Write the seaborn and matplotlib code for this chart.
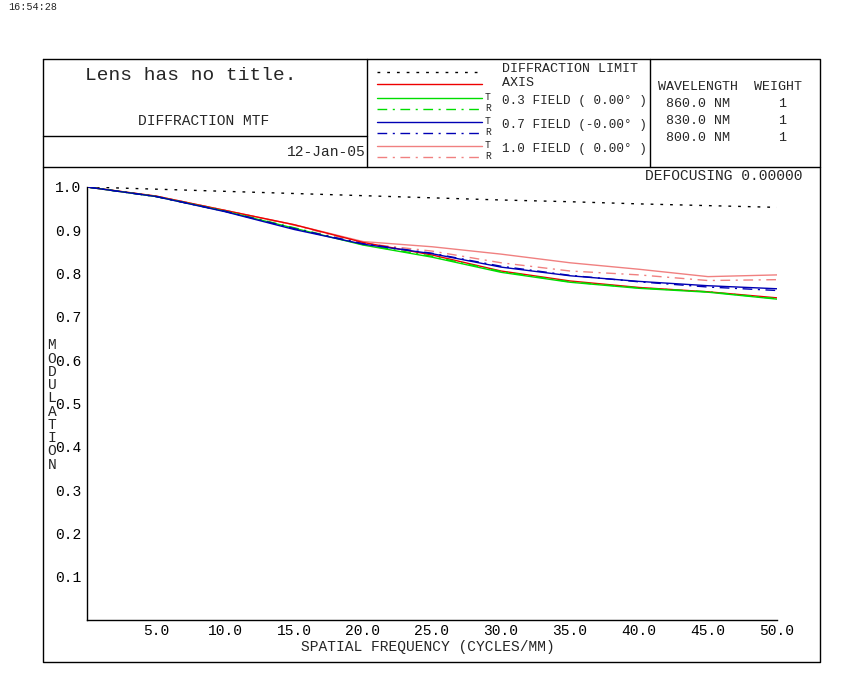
import numpy as np
import pandas as pd
import matplotlib
matplotlib.use("Agg")
import matplotlib.pyplot as plt
import seaborn as sns

# spatial frequency (cycles/mm) and MTF readings
freq = [0, 5, 10, 15, 20, 25, 30, 35, 40, 45, 50]
diff_limit = [1.000, 0.995, 0.990, 0.985, 0.980, 0.975, 0.970, 0.966, 0.961, 0.957, 0.953]
axis_t = [1.000, 0.979, 0.946, 0.913, 0.872, 0.843, 0.806, 0.783, 0.768, 0.758, 0.744]
f03_t = [1.000, 0.978, 0.944, 0.905, 0.866, 0.838, 0.803, 0.780, 0.766, 0.757, 0.741]
f03_r = [1.000, 0.978, 0.944, 0.906, 0.867, 0.840, 0.805, 0.781, 0.767, 0.758, 0.742]
f07_t = [1.000, 0.978, 0.943, 0.902, 0.868, 0.846, 0.815, 0.795, 0.782, 0.772, 0.765]
f07_r = [1.000, 0.978, 0.944, 0.904, 0.869, 0.847, 0.817, 0.796, 0.781, 0.769, 0.761]
f10_t = [1.000, 0.979, 0.946, 0.913, 0.874, 0.862, 0.845, 0.825, 0.810, 0.793, 0.797]
f10_r = [1.000, 0.979, 0.946, 0.912, 0.870, 0.852, 0.825, 0.806, 0.797, 0.784, 0.786]

x_ticks = [5, 10, 15, 20, 25, 30, 35, 40, 45, 50]
y_ticks = [0.1, 0.2, 0.3, 0.4, 0.5, 0.6, 0.7, 0.8, 0.9, 1.0]

wavelengths = ["860.0 NM", "830.0 NM", "800.0 NM"]
weights = ["1", "1", "1"]
field_labels = ["0.3 FIELD ( 0.00\u00b0 )", "0.7 FIELD (-0.00\u00b0 )", "1.0 FIELD ( 0.00\u00b0 )"]

RED = "#ee0000"
GREEN = "#00dd00"
BLUE = "#0000b4"
PINK = "#f08080"
DOT = (0, (2, 5))
DASH = (0, (7, 4, 1.5, 4))

sns.set_style("white")
plt.rcParams['font.family'] = ['Liberation Mono', 'DejaVu Sans Mono']
FS = 10.5
FS_BOX = 9.6
FS_FIELD = 9.1

fig = plt.figure(figsize=(8.62, 6.97), dpi=100)

# overlay in pixel coordinates for the frame / header boxes
frame = fig.add_axes([0, 0, 1, 1], zorder=0)
frame.set_xlim(0, 862)
frame.set_ylim(697, 0)
frame.axis("off")

lk = dict(color="black", lw=1.0)
frame.plot([43, 820, 820, 43, 43], [59, 59, 662, 662, 59], **lk)
frame.plot([43, 820], [167, 167], **lk)
frame.plot([367, 367], [59, 167], **lk)
frame.plot([650, 650], [59, 167], **lk)
frame.plot([43, 367], [136, 136], **lk)

frame.text(8, 7, "16:54:28", fontsize=7.3, va="center", ha="left")
frame.text(191, 76, "Lens has no title.", fontsize=14, ha="center", va="center")
frame.text(204, 121, "DIFFRACTION MTF", fontsize=FS, ha="center", va="center")
frame.text(366, 152, "12-Jan-05", fontsize=FS, ha="right", va="center")

# legend box
frame.plot([377, 482], [72, 72], color="black", lw=1, linestyle=DOT)
frame.text(502, 69, "DIFFRACTION LIMIT", fontsize=FS_BOX, va="center")
frame.plot([377, 482], [84, 84], color=RED, lw=1)
frame.text(502, 83, "AXIS", fontsize=FS_BOX, va="center")
for i, (lab, col) in enumerate(zip(field_labels, [GREEN, BLUE, PINK])):
    y0 = 98 + 24 * i
    frame.plot([377, 482], [y0, y0], color=col, lw=1)
    frame.plot([377, 482], [y0 + 11, y0 + 11], color=col, lw=1, linestyle=DASH)
    frame.text(488, y0 - 1, "T", fontsize=7, ha="center", va="center")
    frame.text(488, y0 + 10, "R", fontsize=7, ha="center", va="center")
    frame.text(502, y0 + 3, lab, fontsize=FS_FIELD, va="center")

# wavelength box
frame.text(658, 87, "WAVELENGTH  WEIGHT", fontsize=FS_BOX, va="center")
for i, (wl, wt) in enumerate(zip(wavelengths, weights)):
    frame.text(666, 104 + 17 * i, wl, fontsize=FS_BOX, va="center")
    frame.text(782, 104 + 17 * i, wt, fontsize=FS_BOX, va="center", ha="center")

frame.text(803, 176, "DEFOCUSING 0.00000", fontsize=FS, ha="right", va="center")
frame.text(52, 405, "\n".join("MODULATION"), fontsize=FS, ha="center", va="center",
           linespacing=0.93)
frame.text(428, 647, "SPATIAL FREQUENCY (CYCLES/MM)", fontsize=FS, ha="center", va="center")

# main MTF plot
ax = fig.add_axes([87 / 862, 77 / 697, 690 / 862, 433 / 697], zorder=1)
ax.patch.set_alpha(0)

df = pd.DataFrame({"freq": freq, "diff": diff_limit, "axis": axis_t,
                   "f03_t": f03_t, "f03_r": f03_r, "f07_t": f07_t,
                   "f07_r": f07_r, "f10_t": f10_t, "f10_r": f10_r})

curves = [
    ("diff", "black", DOT),
    ("f10_r", PINK, DASH),
    ("f10_t", PINK, "-"),
    ("axis", RED, "-"),
    ("f03_r", GREEN, DASH),
    ("f03_t", GREEN, "-"),
    ("f07_r", BLUE, DASH),
    ("f07_t", BLUE, "-"),
]
for col, color, ls in curves:
    sns.lineplot(data=df, x="freq", y=col, ax=ax, color=color,
                 linestyle=ls, lw=1.0)

ax.set_xlim(0, 50)
ax.set_ylim(0, 1.0)
ax.set_xticks(x_ticks)
ax.set_xticklabels([f"{v:.1f}" for v in x_ticks], fontsize=FS)
ax.set_yticks(y_ticks)
ax.set_yticklabels([f"{v:.1f}" for v in y_ticks], fontsize=FS)
ax.set_xlabel("")
ax.set_ylabel("")
ax.tick_params(axis="x", direction="in", length=6, width=1, pad=3, colors="black")
ax.tick_params(axis="y", direction="in", length=3, width=1, pad=4, colors="black")
for s in ["top", "right"]:
    ax.spines[s].set_visible(False)
for s in ["left", "bottom"]:
    ax.spines[s].set_color("black")
    ax.spines[s].set_linewidth(1.0)

fig.savefig("out.png", dpi=100)
